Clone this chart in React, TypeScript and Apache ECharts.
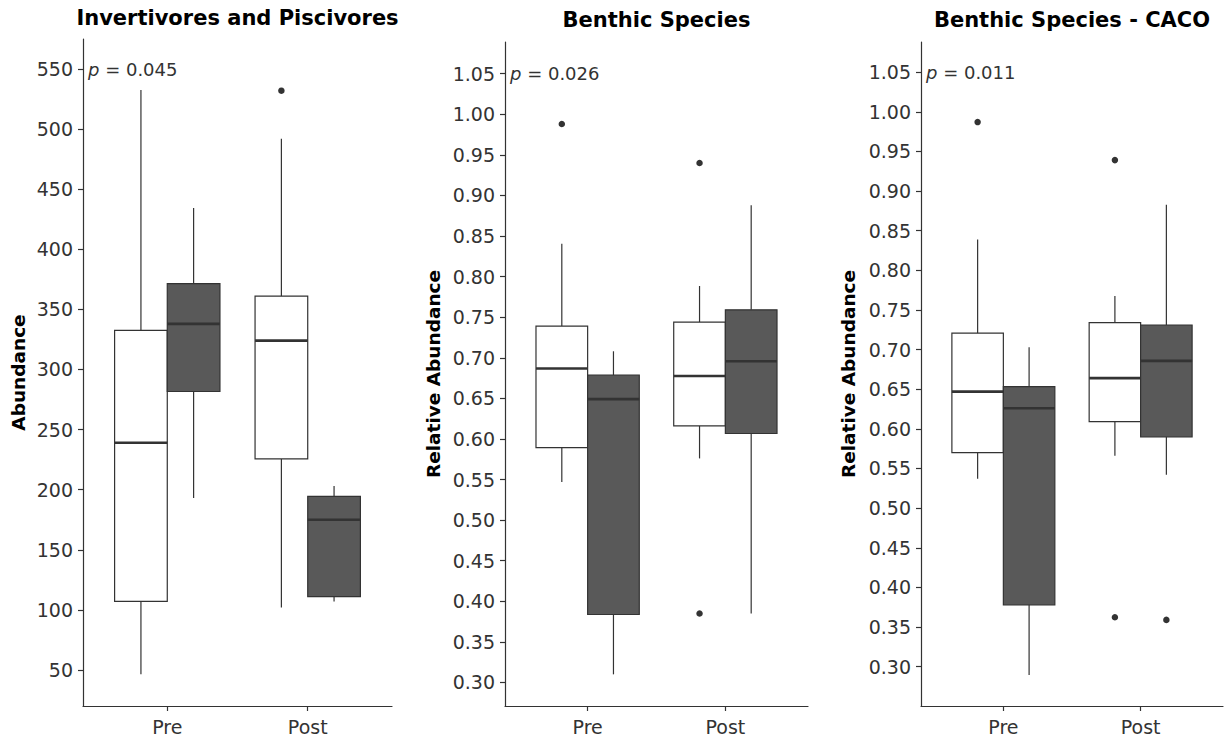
import React, { useEffect, useRef } from "react";
import * as echarts from "echarts";

// ---------- data ----------
const categories = ["Pre", "Post"];
const panelTitles = ["Invertivores and Piscivores", "Benthic Species", "Benthic Species - CACO"];
const axisNames = ["Abundance", "Relative Abundance", "Relative Abundance"];
const pValues = ["0.045", "0.026", "0.011"];
const pLabelY = [550, 1.05, 1.05];

// box stats: [low whisker, Q1, median, Q3, high whisker] for Pre, Post
const invWhite = [
  [46.4, 107, 239, 332.5, 532.5],
  [102, 225.6, 324, 361, 492],
];
const invDark = [
  [193, 281.7, 338, 371.4, 434.4],
  [107, 111, 175, 194.4, 203],
];
const invWhiteOutliers = [[], [532]];
const invDarkOutliers = [[], []];

const benWhite = [
  [0.547, 0.5894, 0.6867, 0.739, 0.8406],
  [0.576, 0.616, 0.6776, 0.744, 0.7884],
];
const benDark = [
  [0.31, 0.3837, 0.649, 0.6785, 0.708],
  [0.385, 0.6067, 0.6957, 0.759, 0.888],
];
const benWhiteOutliers = [[0.988], [0.94, 0.385]];
const benDarkOutliers = [[], []];

const cacoWhite = [
  [0.537, 0.57, 0.647, 0.7207, 0.839],
  [0.566, 0.609, 0.664, 0.734, 0.7677],
];
const cacoDark = [
  [0.2895, 0.378, 0.626, 0.6533, 0.703],
  [0.542, 0.59, 0.6857, 0.731, 0.8826],
];
const cacoWhiteOutliers = [[0.987], [0.939, 0.3623]];
const cacoDarkOutliers = [[], [0.359]];

const invTicks = [50, 100, 150, 200, 250, 300, 350, 400, 450, 500, 550];
const benTicks = [0.3, 0.35, 0.4, 0.45, 0.5, 0.55, 0.6, 0.65, 0.7, 0.75, 0.8, 0.85, 0.9, 0.95, 1.0, 1.05];
const cacoTicks = [0.3, 0.35, 0.4, 0.45, 0.5, 0.55, 0.6, 0.65, 0.7, 0.75, 0.8, 0.85, 0.9, 0.95, 1.0, 1.05];

const yRanges = [
  [20, 575],
  [0.271, 1.089],
  [0.2504, 1.088],
];

// ---------- layout / style ----------
const FONT = "DejaVu Sans";
const INK = "#333333";
const TICK_TEXT = "#333333";
const DARK_FILL = "#595959";
const grids = [
  { left: 83, top: 39, width: 309, height: 667 },
  { left: 505, top: 42, width: 303, height: 664 },
  { left: 921, top: 42, width: 302, height: 664 },
];
const axisNameX = [18, 433, 848];
const titleY = [18, 20, 20];
const DODGE = 0.1875;
const BOX_W = 0.375;

const panels = [
  { white: invWhite, dark: invDark, wOut: invWhiteOutliers, dOut: invDarkOutliers, ticks: invTicks, fmt: (v: number) => String(v) },
  { white: benWhite, dark: benDark, wOut: benWhiteOutliers, dOut: benDarkOutliers, ticks: benTicks, fmt: (v: number) => v.toFixed(2) },
  { white: cacoWhite, dark: cacoDark, wOut: cacoWhiteOutliers, dOut: cacoDarkOutliers, ticks: cacoTicks, fmt: (v: number) => v.toFixed(2) },
];

function renderBox(params: any, api: any) {
  const x = api.value(0);
  const low = api.coord([x, api.value(1)]);
  const q1 = api.coord([x, api.value(2)]);
  const med = api.coord([x, api.value(3)]);
  const q3 = api.coord([x, api.value(4)]);
  const high = api.coord([x, api.value(5)]);
  const dark = api.value(6) === 1;
  const w = api.size([BOX_W, 0])[0];
  const cx = q1[0];
  return {
    type: "group",
    children: [
      { type: "line", shape: { x1: cx, y1: high[1], x2: cx, y2: q3[1] }, style: { stroke: INK, lineWidth: 1.2 } },
      { type: "line", shape: { x1: cx, y1: q1[1], x2: cx, y2: low[1] }, style: { stroke: INK, lineWidth: 1.2 } },
      {
        type: "rect",
        shape: { x: cx - w / 2, y: q3[1], width: w, height: q1[1] - q3[1] },
        style: { fill: dark ? DARK_FILL : "#ffffff", stroke: INK, lineWidth: 1.2 },
      },
      { type: "line", shape: { x1: cx - w / 2, y1: med[1], x2: cx + w / 2, y2: med[1] }, style: { stroke: INK, lineWidth: 2.6 } },
    ],
  };
}

function buildOption() {
  const xAxis: any[] = [];
  const yAxis: any[] = [];
  const series: any[] = [];
  const graphic: any[] = [];

  panels.forEach((p, i) => {
    xAxis.push({
      type: "value",
      gridIndex: i,
      min: 0.4,
      max: 2.6,
      axisLine: { show: true, onZero: false, lineStyle: { color: INK, width: 1.2 } },
      axisTick: { show: true, length: 5, customValues: [1, 2], lineStyle: { color: INK, width: 1.2 } },
      axisLabel: {
        customValues: [1, 2],
        formatter: (v: number) => categories[Math.round(v) - 1],
        color: TICK_TEXT,
        fontSize: 19,
        fontFamily: FONT,
        margin: 11,
      },
      splitLine: { show: false },
    });
    yAxis.push({
      type: "value",
      gridIndex: i,
      min: yRanges[i][0],
      max: yRanges[i][1],
      axisLine: { show: true, onZero: false, lineStyle: { color: INK, width: 1.2 } },
      axisTick: { show: true, length: 5, customValues: p.ticks, lineStyle: { color: INK, width: 1.2 } },
      axisLabel: {
        customValues: p.ticks,
        formatter: p.fmt,
        color: TICK_TEXT,
        fontSize: 19,
        fontFamily: FONT,
        margin: 10,
      },
      splitLine: { show: false },
    });

    const boxData: any[] = [];
    const outData: any[] = [];
    categories.forEach((_, c) => {
      const xw = c + 1 - DODGE;
      const xd = c + 1 + DODGE;
      boxData.push([xw, ...p.white[c], 0]);
      boxData.push([xd, ...p.dark[c], 1]);
      p.wOut[c].forEach((v) => outData.push([xw, v]));
      p.dOut[c].forEach((v) => outData.push([xd, v]));
    });

    series.push({
      type: "custom",
      xAxisIndex: i,
      yAxisIndex: i,
      renderItem: renderBox,
      encode: { x: 0, y: [1, 2, 3, 4, 5] },
      data: boxData,
      clip: false,
      silent: true,
    });
    series.push({
      type: "scatter",
      xAxisIndex: i,
      yAxisIndex: i,
      data: outData,
      symbol: "circle",
      symbolSize: 6.5,
      itemStyle: { color: INK, opacity: 1 },
      silent: true,
    });
    series.push({
      type: "custom",
      xAxisIndex: i,
      yAxisIndex: i,
      data: [[0.4, pLabelY[i]]],
      clip: false,
      silent: true,
      renderItem: (params: any, api: any) => {
        const pt = api.coord([api.value(0), api.value(1)]);
        return {
          type: "text",
          x: pt[0] + 5,
          y: pt[1],
          style: {
            text: "{i|p} = " + pValues[i],
            fill: INK,
            fontSize: 18,
            fontFamily: FONT,
            verticalAlign: "middle",
            align: "left",
            rich: { i: { fontStyle: "italic", fontSize: 18, fontFamily: FONT, fill: INK } },
          },
        };
      },
    });

    const g = grids[i];
    graphic.push({
      type: "text",
      x: g.left + g.width / 2,
      y: titleY[i],
      style: {
        text: panelTitles[i],
        fill: "#000000",
        fontSize: 21,
        fontWeight: "bold",
        fontFamily: FONT,
        align: "center",
        verticalAlign: "middle",
      },
    });
    graphic.push({
      type: "text",
      x: axisNameX[i],
      y: g.top + g.height / 2,
      rotation: Math.PI / 2,
      style: {
        text: axisNames[i],
        fill: "#000000",
        fontSize: 18.5,
        fontWeight: "bold",
        fontFamily: FONT,
        align: "center",
        verticalAlign: "middle",
      },
    });
  });

  return {
    animation: false,
    backgroundColor: "#ffffff",
    grid: grids.map((g) => ({ ...g, containLabel: false })),
    xAxis,
    yAxis,
    series,
    graphic,
  };
}

export default function App() {
  const ref = useRef<HTMLDivElement>(null);
  useEffect(() => {
    document.body.style.margin = "0";
    if (!ref.current) return;
    const chart = echarts.init(ref.current, undefined, { renderer: "svg" });
    chart.setOption(buildOption() as any);
    return () => chart.dispose();
  }, []);
  return <div ref={ref} style={{ width: 1228, height: 743 }} />;
}
